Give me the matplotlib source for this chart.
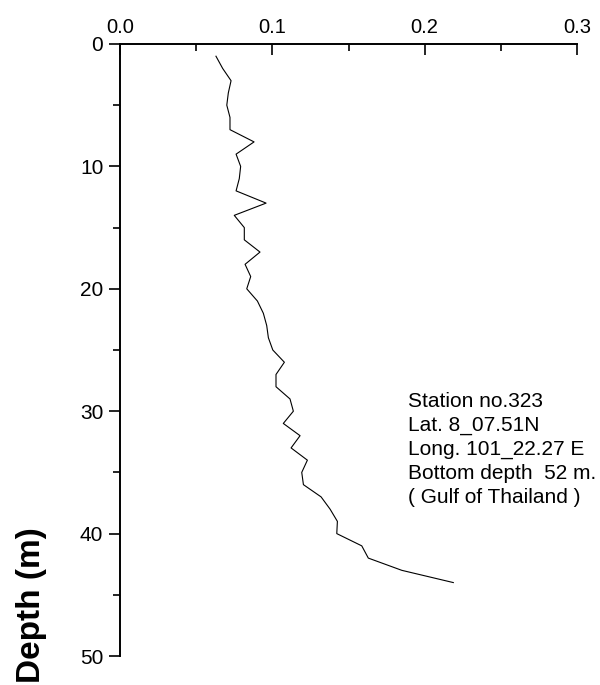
import numpy as np
import matplotlib.pyplot as plt

plt.rcParams['font.family'] = ['Liberation Sans', 'DejaVu Sans']

# depth (m) and the measured value at each depth
depth = np.arange(1, 45)
value = [0.0630, 0.0674, 0.0729, 0.0711, 0.0701, 0.0722, 0.0722, 0.0880,
         0.0762, 0.0792, 0.0783, 0.0762, 0.0959, 0.0750, 0.0816, 0.0816,
         0.0919, 0.0821, 0.0858, 0.0832, 0.0902, 0.0941, 0.0963, 0.0974,
         0.1003, 0.1079, 0.1024, 0.1024, 0.1116, 0.1138, 0.1072, 0.1182,
         0.1123, 0.1230, 0.1193, 0.1204, 0.1320, 0.1379, 0.1427, 0.1423,
         0.1587, 0.1630, 0.1850, 0.2188]

x_ticks = [0.0, 0.1, 0.2, 0.3]
x_labels = ['0.0', '0.1', '0.2', '0.3']
y_ticks = [0, 10, 20, 30, 40, 50]

info = ['Station no.323',
        'Lat. 8_07.51N',
        'Long. 101_22.27 E',
        'Bottom depth  52 m.',
        '( Gulf of Thailand )']

fig = plt.figure(figsize=(6, 6.85), dpi=100)
ax = fig.add_axes([0.2, 0.0423, 0.7617, 0.8935])

ax.plot(value, depth, color='black', linewidth=0.8)

ax.set_xlim(0, 0.3)
ax.set_ylim(50, 0)

# x axis on top, ticks pointing into the plot
ax.xaxis.tick_top()
ax.set_xticks(x_ticks)
ax.set_xticklabels(x_labels)
ax.set_xticks([0.05, 0.15, 0.25], minor=True)
ax.tick_params(axis='x', which='major', direction='in', length=8, width=1.2,
               labelsize=14.5, pad=5)
ax.tick_params(axis='x', which='minor', direction='in', length=5, width=1.2)

# y axis, ticks pointing out
ax.set_yticks(y_ticks)
ax.set_yticks([5, 15, 25, 35, 45], minor=True)
ax.tick_params(axis='y', which='major', direction='out', length=8, width=1.2,
               labelsize=15, pad=4)
ax.tick_params(axis='y', which='minor', direction='out', length=5, width=1.2)

ax.spines['right'].set_visible(False)
ax.spines['bottom'].set_visible(False)
ax.spines['top'].set_linewidth(1.4)
ax.spines['left'].set_linewidth(1.4)

for i, line in enumerate(info):
    ax.text(0.189, 29.2 + 1.96 * i, line, fontsize=15, va='center', ha='left')

fig.text(0.052, 0.117, 'Depth (m)', rotation=90, fontsize=24,
         fontweight='bold', ha='center', va='center')

plt.savefig('out.png', dpi=100)
